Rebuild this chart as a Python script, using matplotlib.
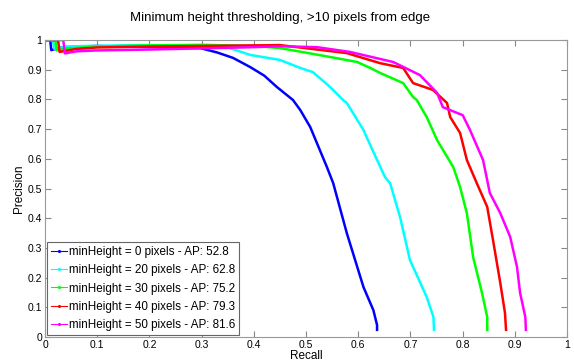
import matplotlib.pyplot as plt
from matplotlib.lines import Line2D

# Precision/recall curves
recall_0 = [0.0, 0.01, 0.012, 0.03, 0.06, 0.1, 0.15, 0.2, 0.25, 0.297, 0.33, 0.36, 0.393, 0.42, 0.444,
            0.475, 0.489, 0.508, 0.54, 0.552, 0.578, 0.61, 0.629, 0.636, 0.636]
prec_0 = [1.0, 1.0, 0.966, 0.975, 0.978, 0.98, 0.978, 0.976, 0.974, 0.973, 0.958, 0.94, 0.909, 0.88, 0.842,
          0.798, 0.764, 0.707, 0.572, 0.518, 0.35, 0.168, 0.09, 0.04, 0.024]

recall_20 = [0.0, 0.015, 0.018, 0.04, 0.08, 0.15, 0.2, 0.25, 0.3, 0.35, 0.393, 0.45, 0.489, 0.513, 0.546,
             0.571, 0.578, 0.61, 0.616, 0.651, 0.661, 0.68, 0.699, 0.731, 0.744, 0.745]
prec_20 = [1.0, 1.0, 0.97, 0.978, 0.98, 0.982, 0.983, 0.982, 0.98, 0.975, 0.95, 0.933, 0.906, 0.892, 0.842,
           0.798, 0.788, 0.697, 0.673, 0.539, 0.518, 0.404, 0.259, 0.135, 0.067, 0.024]

recall_30 = [0.0, 0.02, 0.022, 0.05, 0.1, 0.2, 0.3, 0.4, 0.45, 0.546, 0.598, 0.623, 0.642, 0.686, 0.705,
             0.712, 0.731, 0.751, 0.782, 0.795, 0.808, 0.82, 0.837, 0.847, 0.847]
prec_30 = [1.0, 1.0, 0.965, 0.972, 0.978, 0.982, 0.984, 0.98, 0.973, 0.943, 0.926, 0.906, 0.889, 0.855, 0.808,
           0.798, 0.741, 0.663, 0.572, 0.505, 0.417, 0.269, 0.148, 0.067, 0.024]

recall_40 = [0.0, 0.025, 0.028, 0.06, 0.1, 0.2, 0.3, 0.4, 0.45, 0.578, 0.642, 0.686, 0.705, 0.743, 0.77,
             0.776, 0.795, 0.808, 0.827, 0.847, 0.858, 0.872, 0.881, 0.883]
prec_40 = [1.0, 1.0, 0.96, 0.97, 0.975, 0.978, 0.98, 0.982, 0.983, 0.956, 0.922, 0.906, 0.855, 0.832, 0.788,
           0.741, 0.687, 0.596, 0.518, 0.438, 0.327, 0.182, 0.081, 0.024]

recall_50 = [0.0, 0.035, 0.038, 0.06, 0.1, 0.2, 0.3, 0.4, 0.45, 0.521, 0.584, 0.667, 0.718, 0.751, 0.762,
             0.8, 0.814, 0.839, 0.852, 0.872, 0.891, 0.904, 0.91, 0.92, 0.921]
prec_50 = [1.0, 1.0, 0.955, 0.962, 0.965, 0.968, 0.972, 0.976, 0.979, 0.976, 0.96, 0.926, 0.882, 0.822, 0.774,
           0.747, 0.697, 0.596, 0.485, 0.417, 0.337, 0.236, 0.148, 0.067, 0.024]

labels = ["minHeight = 0 pixels - AP: 52.8",
          "minHeight = 20 pixels - AP: 62.8",
          "minHeight = 30 pixels - AP: 75.2",
          "minHeight = 40 pixels - AP: 79.3",
          "minHeight = 50 pixels - AP: 81.6"]
colors = ["#0000ff", "#00ffff", "#00ff00", "#ff0000", "#ff00ff"]

curves = [(recall_0, prec_0), (recall_20, prec_20), (recall_30, prec_30),
          (recall_40, prec_40), (recall_50, prec_50)]

plt.rcParams['font.family'] = ['Liberation Sans', 'DejaVu Sans']

fig = plt.figure(figsize=(5.74, 3.64), dpi=100)
ax = fig.add_axes([0.0784, 0.0742, 0.9096, 0.8158])

for (r, p), c in zip(curves, colors):
    ax.plot(r, p, color=c, linewidth=1.8)

ax.set_xlim(0, 1)
ax.set_ylim(0, 1)
ticks = [i / 10 for i in range(11)]
tick_labels = ["0"] + [f"{t:g}" for t in ticks[1:-1]] + ["1"]
ax.set_xticks(ticks)
ax.set_xticklabels(tick_labels)
ax.set_yticks(ticks)
ax.set_yticklabels(tick_labels)
ax.tick_params(direction="in", length=4, labelsize=7.5, top=True, right=True,
               color="#888888", pad=2)
for s in ax.spines.values():
    s.set_color("#999999")
    s.set_linewidth(0.8)

ax.set_xlabel("Recall", fontsize=8.5, labelpad=0)
ax.set_ylabel("Precision", fontsize=8.5, labelpad=2)
fig.text(0.488, 0.95, "Minimum height thresholding, >10 pixels from edge",
         fontsize=9.5, ha="center", va="center")

handles = [Line2D([0], [0], color=c, linewidth=0.8, marker=".", markersize=2.5) for c in colors]
leg = ax.legend(handles, labels, loc="lower left", fontsize=8.4, handlelength=1.4,
                handletextpad=0.15, labelspacing=0.54, borderaxespad=0.2,
                fancybox=False, framealpha=1, borderpad=0.3)
leg.get_frame().set_edgecolor("#666666")
leg.get_frame().set_linewidth(0.8)

fig.savefig("out.png", dpi=100)
